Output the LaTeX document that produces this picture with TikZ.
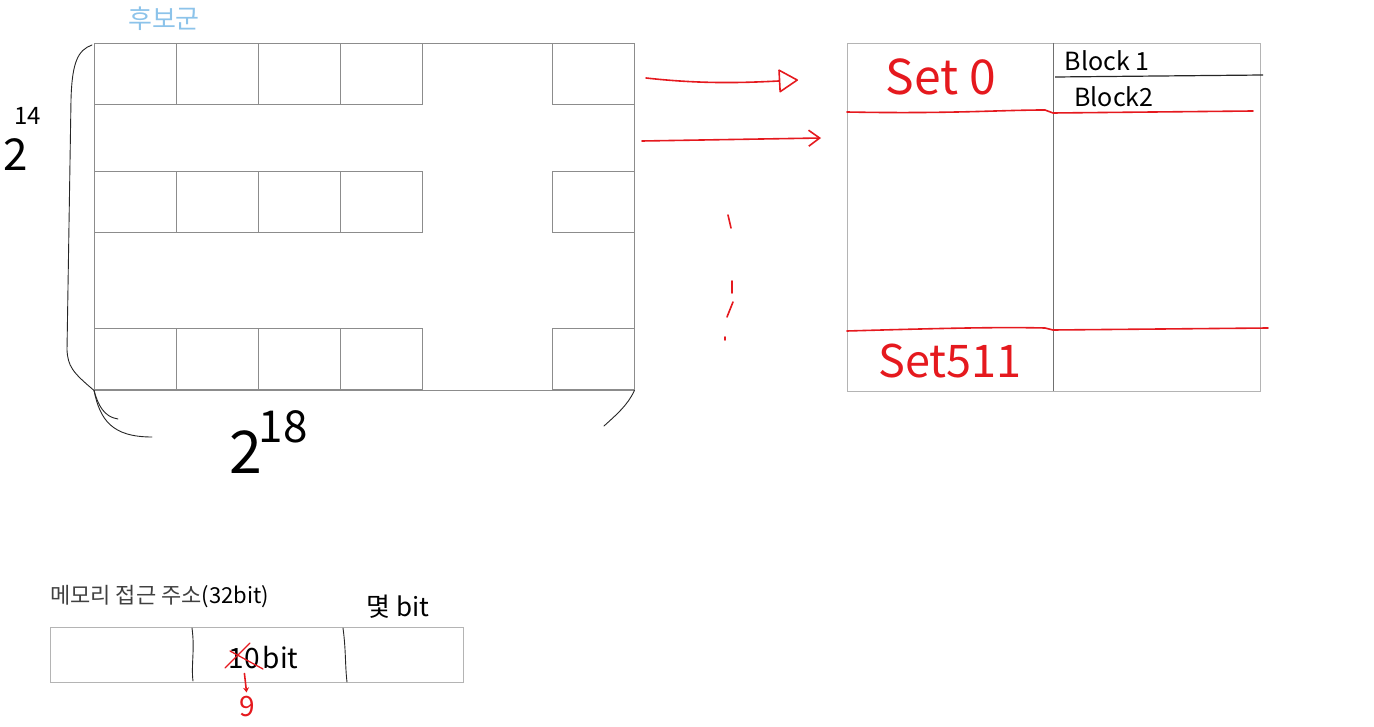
\documentclass[tikz,border=0pt]{standalone}
\usepackage{fontspec}
\setmainfont{Noto Sans CJK KR}
\usepackage{xcolor}
\usetikzlibrary{arrows.meta,positioning}
\definecolor{pen}{HTML}{E5191E}
\definecolor{sky}{HTML}{8CC3EA}
\definecolor{frame}{HTML}{8C8C8C}
\definecolor{lightframe}{HTML}{B4B4B4}

\begin{document}
\begin{tikzpicture}[x=1pt, y=-1pt,
  cell/.style={draw=frame, minimum width=82pt, minimum height=61pt, inner sep=0pt, anchor=north west},
  hand/.style={line width=0.9pt, black!85, line cap=round},
  redpen/.style={pen, line width=1.6pt, line cap=round, line join=round},
  sz/.style={font=\fontsize{#1}{#1}\selectfont, inner sep=0pt}
]
  \useasboundingbox (0,0) rectangle (1374,727);

  % candidate blocks (memory)
  \node[draw=frame, minimum width=540pt, minimum height=347pt, inner sep=0pt, anchor=north west] (mem) at (94,43) {};
  \foreach \y [count=\r] in {43,171,328} {
    \foreach \x [count=\c] in {94,176,258,340,552} {
      \node[cell] (cell\r\c) at (\x,\y) {};
    }
  }
  \node[sz=26, text=sky] (cand) at (164,19) {후보군};

  % hand drawn braces
  \draw[hand] ([xshift=-2pt,yshift=-2pt]mem.north west) .. controls (78,50) and (72,62) .. (71,100)
    -- (67,350) .. controls (68,366) and (72,372) .. (mem.south west);
  \draw[hand] (mem.south west) .. controls (98,405) and (104,417) .. (118,419);
  \draw[hand] (mem.south west) .. controls (100,420) and (112,437) .. (152,437);
  \draw[hand] (mem.south east) .. controls (628,405) and (616,415) .. (604,426);

  \node[sz=44] (two14) at (16,155) {2};
  \node[sz=24] (exp14) at (28,116) {14};
  \node[sz=59] (two18) at (246,452) {2};
  \node[sz=44] (exp18) at (283,427) {18};

  % cache sets
  \node[draw=lightframe, minimum width=413pt, minimum height=348pt, inner sep=0pt, anchor=north west] (cache) at (847,43) {};
  \draw[frame!80!black] ([xshift=206pt]cache.north west) -- ([xshift=206pt]cache.south west);
  \draw[redpen] (847,112) .. controls (950,114) and (1000,110) .. (1045,110) -- (1053,113) -- (1253,111);
  \draw[redpen] (847,331) .. controls (950,328) and (1000,327) .. (1045,328) -- (1053,330) -- (1268,328);
  \draw[line width=1.2pt, black!85] (1055,77) -- (1263,75);

  \node[sz=48, text=pen] (set0) at (941,77) {Set 0};
  \node[sz=45, text=pen] (set511) at (950,361) {Set511};
  \node[sz=25] (blk1) at (1107,61) {Block 1};
  \node[sz=25] (blk2) at (1114,97) {Block2};

  % mapping arrows
  \coordinate (from0) at (646,78);
  \coordinate (to0) at (798,80);
  \coordinate (from1) at (642,141);
  \coordinate (to1) at (821,138);
  \draw[redpen, -{Triangle[open, round, length=20pt, width=24pt]}] (from0) .. controls (700,84) and (740,83) .. (to0);
  \draw[redpen, -{Straight Barb[length=11pt, width=16pt]}] (from1) -- (to1);

  % dots
  \draw[redpen] (728,215) -- (731,228);
  \draw[redpen] (732,281) -- (732,293);
  \draw[redpen] (733,302) -- (727,317);
  \draw[redpen] (725,337) -- (725,340);

  % memory access address
  \node[sz=22, text=black!75, anchor=west] (addrlbl) at (50,597) {메모리 접근 주소\textcolor{black}{(32bit)}};
  \node[sz=26] (howmany) at (398,607) {몇 bit};
  \node[draw=lightframe, minimum width=413pt, minimum height=55pt, inner sep=0pt, anchor=north west] (addr) at (50,627) {};
  \draw[hand] (192,628) .. controls (195,650) and (191,665) .. (193,681);
  \draw[hand] (343,628) .. controls (346,650) and (345,665) .. (347,682);

  \node[sz=28] (old) at (244,659) {10};
  \node[sz=28, anchor=base west] (bitmid) at ([xshift=3pt]old.base east) {bit};
  \draw[redpen, line width=1.3pt] (225,668) -- (250,643);
  \draw[redpen, line width=1.3pt] (230,651) -- (263,669);
  \node[sz=28, text=pen] (nine) at (247,707) {9};
  \draw[redpen, -{Stealth[length=5pt, width=6pt]}, shorten <=4pt, shorten >=4pt] (old.south) -- (nine.north);
\end{tikzpicture}
\end{document}
